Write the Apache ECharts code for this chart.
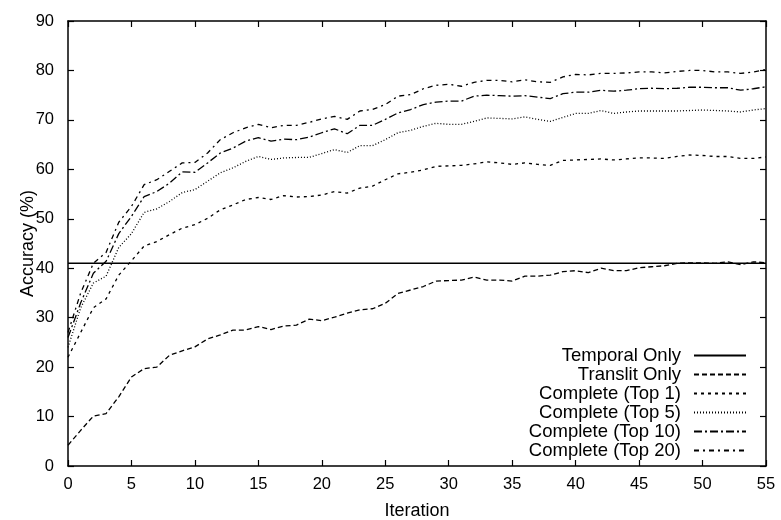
<!DOCTYPE html>
<html>
<head>
<meta charset="utf-8">
<script src="https://cdn.jsdelivr.net/npm/echarts@6/dist/echarts.min.js"></script>
<style>html,body{margin:0;padding:0;background:#fff;}#c{width:781px;height:520px;}</style>
</head>
<body>
<div id="c"></div>
<script>
const iterations = [0,1,2,3,4,5,6,7,8,9,10,11,12,13,14,15,16,17,18,19,20,21,22,23,24,25,26,27,28,29,30,31,32,33,34,35,36,37,38,39,40,41,42,43,44,45,46,47,48,49,50,51,52,53,54,55];
const temporalIters = [0, 55];
const temporalOnly = [41, 41];
const translitOnly = [4.2,7.2,10.1,10.6,14,18,19.7,20,22.4,23.3,24.1,25.7,26.5,27.5,27.5,28.2,27.6,28.3,28.5,29.7,29.4,30.1,30.9,31.6,31.8,32.9,34.9,35.6,36.3,37.4,37.5,37.6,38.2,37.6,37.6,37.4,38.4,38.4,38.6,39.3,39.5,39.1,40.0,39.5,39.5,40.1,40.3,40.5,41.0,41.1,41.1,41.0,41.3,40.7,41.3,41.1];
const top1 = [22,27,32,33.8,38.6,41.5,44.5,45.4,46.8,48.1,48.8,50.1,51.8,52.8,53.9,54.3,53.9,54.7,54.4,54.5,54.8,55.5,55.2,56.2,56.6,57.9,59.1,59.4,59.9,60.6,60.7,60.8,61.1,61.5,61.3,61.0,61.3,61.0,60.8,61.8,61.9,62.0,62.1,61.9,62.1,62.3,62.3,62.2,62.6,62.9,62.8,62.6,62.6,62.2,62.2,62.5];
const top5 = [24,32,37,38.4,44.2,47,51.3,52,53.5,55.3,55.9,57.6,59.3,60.3,61.6,62.6,62.0,62.3,62.4,62.4,63.2,64.0,63.4,64.8,64.8,66.0,67.4,67.9,68.7,69.3,69.1,69.1,69.7,70.4,70.3,70.2,70.6,70.1,69.7,70.5,71.3,71.3,71.9,71.3,71.6,71.8,71.8,71.8,71.8,71.9,72.0,71.9,71.8,71.6,72.0,72.3];
const top10 = [26,33,39,41.4,47,50.5,54.5,55.5,57.2,59.5,59.4,61.3,63.3,64.3,65.7,66.4,65.7,66.1,66.0,66.5,67.4,68.2,67.2,68.9,68.9,70.1,71.4,72.1,73.1,73.6,73.8,73.8,74.8,75.0,74.9,74.8,74.9,74.6,74.3,75.3,75.6,75.6,76.0,75.8,76.0,76.3,76.4,76.3,76.4,76.6,76.6,76.5,76.5,76.0,76.3,76.7];
const top20 = [27,35,41.0,43.2,49.3,52.5,56.9,57.9,59.6,61.3,61.4,63.3,66.0,67.4,68.4,69.1,68.4,68.9,68.9,69.5,70.2,70.7,70.1,71.8,72.1,73.1,74.8,75.1,76.3,77.0,77.2,76.8,77.6,78.0,78.0,77.7,78.1,77.7,77.6,78.7,79.2,79.1,79.4,79.4,79.5,79.7,79.7,79.5,79.8,80.0,80.0,79.7,79.7,79.4,79.7,80.2];
const seriesNames = ['Temporal Only','Translit Only','Complete (Top 1)','Complete (Top 5)','Complete (Top 10)','Complete (Top 20)'];
const xTicks = {min: 0, max: 55, interval: 5};
const yTicks = {min: 0, max: 90, interval: 10};

const pair = (xs, ys) => xs.map((x, i) => [x, ys[i]]);
const FONT = 'Liberation Sans, Arial, sans-serif';
const FS_TICK = 16.5;
const FS_NAME = 18;
const FS_LEG = 18.5;
const dashes = [null, [5,3], [3,4], [1,2], [8,3,2,3], [5,4,2,4]];
const dataSets = [pair(temporalIters, temporalOnly), pair(iterations, translitOnly), pair(iterations, top1), pair(iterations, top5), pair(iterations, top10), pair(iterations, top20)];

const chart = echarts.init(document.getElementById('c'), null, {renderer: 'canvas'});
const axisCommon = {
  axisLine: {show: true, onZero: false, lineStyle: {color: '#000', width: 1.5}},
  axisTick: {show: true, inside: true, length: 6, lineStyle: {color: '#000', width: 1.2}},
  splitLine: {show: false}
};
chart.setOption({
  animation: false,
  backgroundColor: '#fff',
  grid: {left: 68, right: 15, top: 21, bottom: 54, show: false, containLabel: false, outerBoundsMode: 'none'},
  legend: {
    orient: 'vertical', align: 'right', right: 29, top: 341,
    itemWidth: 52, itemHeight: 10, itemGap: 0,
    itemStyle: {opacity: 0},
    textStyle: {fontFamily: FONT, fontSize: FS_LEG, lineHeight: 18.6, color: '#000', padding: [0, 8, 0, 0]},
    data: seriesNames
  },
  xAxis: [
    Object.assign({type: 'value', position: 'bottom', min: xTicks.min, max: xTicks.max, interval: xTicks.interval,
      name: 'Iteration', nameLocation: 'middle', nameGap: 36, nameMoveOverlap: false,
      nameTextStyle: {fontFamily: FONT, fontSize: FS_NAME, color: '#000'},
      axisLabel: {fontFamily: FONT, fontSize: FS_TICK, color: '#000', margin: 10}}, axisCommon),
    Object.assign({type: 'value', position: 'top', min: xTicks.min, max: xTicks.max, interval: xTicks.interval,
      axisLabel: {show: false}}, axisCommon)
  ],
  yAxis: [
    Object.assign({type: 'value', position: 'left', min: yTicks.min, max: yTicks.max, interval: yTicks.interval,
      name: 'Accuracy (%)', nameLocation: 'middle', nameGap: 31, nameMoveOverlap: false,
      nameTextStyle: {fontFamily: FONT, fontSize: FS_NAME, color: '#000'},
      axisLabel: {fontFamily: FONT, fontSize: FS_TICK, color: '#000', margin: 14}}, axisCommon),
    Object.assign({type: 'value', position: 'right', min: yTicks.min, max: yTicks.max, interval: yTicks.interval,
      axisLabel: {show: false}}, axisCommon)
  ],
  series: seriesNames.map((n, k) => ({
    name: n, type: 'line', data: dataSets[k], xAxisIndex: 0, yAxisIndex: 0,
    symbol: 'none', showSymbol: false, smooth: false,
    lineStyle: {color: '#000', width: k === 0 ? 1.5 : 1.3, type: dashes[k] || 'solid'},
    itemStyle: {color: '#000'}
  }))
});
</script>
</body>
</html>
